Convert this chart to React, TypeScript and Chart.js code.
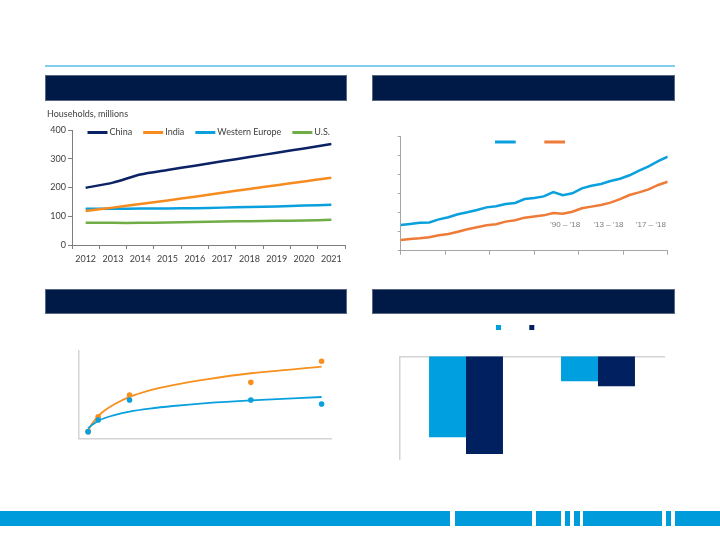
import React, { useEffect, useRef } from "react";
import { Chart, registerables } from "chart.js";

Chart.register(...registerables);

const FONT = "Lato, 'Liberation Sans', Arial, sans-serif";
const SANS = "'Liberation Sans', Arial, sans-serif";

// ---------- Panel 1: households ----------
const yearLabels = ["2012", "2013", "2014", "2015", "2016", "2017", "2018", "2019", "2020", "2021"];
const chinaHouseholds = [199, 217, 245, 261, 276, 291, 306, 321, 336, 351];
const indiaHouseholds = [118, 130, 143, 155, 168, 182, 195, 208, 221, 234];
const westernEuropeHouseholds = [126, 126, 127, 127, 128, 130, 132, 134, 137, 140];
const usHouseholds = [77, 77, 77, 78, 80, 82, 83, 84, 85, 88];
const householdSeriesNames = ["China", "India", "Western Europe", "U.S."];
const householdAxisTitle = "Households, millions";
const householdMin = 0;
const householdMax = 400;
const householdStep = 100;

// ---------- Panel 2: two trend lines ----------
const trendYears = [
  1990, 1991, 1992, 1993, 1994, 1995, 1996, 1997, 1998, 1999,
  2000, 2001, 2002, 2003, 2004, 2005, 2006, 2007, 2008, 2009,
  2010, 2011, 2012, 2013, 2014, 2015, 2016, 2017, 2018,
];
const blueTrend = [
  13.5, 14.1, 14.7, 14.9, 16.5, 17.6, 19.2, 20.2, 21.4, 22.8,
  23.4, 24.6, 25.1, 27.2, 27.7, 28.6, 30.9, 29.2, 30.2, 32.8,
  34.2, 35.1, 36.7, 37.9, 39.7, 42.1, 44.4, 47.1, 49.5,
];
const orangeTrend = [
  5.6, 6.2, 6.5, 7.1, 8.1, 8.8, 10.0, 11.3, 12.3, 13.4,
  13.9, 15.3, 16.0, 17.4, 18.0, 18.6, 19.8, 19.5, 20.5, 22.3,
  23.2, 24.1, 25.3, 27.1, 29.3, 30.7, 32.3, 34.6, 36.3,
];
const periodLabels = ["\u201990 \u2013 \u201918", "\u201913 \u2013 \u201918", "\u201917 \u2013 \u201918"];

// ---------- Panel 3: scatter with fitted curves ----------
const scatterX = [0.9, 1.9, 5, 17, 24];
const orangeScatter = [7.6, 24.7, 49.6, 64.1, 88.2];
const blueScatter = [7.6, 21, 43.9, 43.9, 39.3];
const fitX = [0.9, 1.2, 1.5, 1.9, 2.5, 3.5, 5, 7, 9.3, 12.6, 17, 24];
const orangeFit = [8.7, 15, 20, 25.5, 31.5, 39, 47.5, 55, 61, 67.5, 74.5, 82];
const blueFit = [11.5, 14.5, 17, 20, 23, 26.5, 30.5, 34, 37, 40.3, 43.5, 47.3];

// ---------- Panel 4: grouped negative bars ----------
const barGroups = ["Group 1", "Group 2"];
const lightBlueBars = [-19.7, -6.1];
const navyBars = [-23.8, -7.3];

// ---------- colours ----------
const C_NAVY_LINE = "#0B2265";
const C_ORANGE1 = "#F68B1F";
const C_BLUE = "#0AA0DD";
const C_GREEN = "#70AD47";
const C_ORANGE2 = "#EE7B37";
const C_ORANGE3 = "#F7901E";
const C_BAR_BLUE = "#009FDF";
const C_BAR_NAVY = "#002060";
const C_HEADER = "#001A47";

const xy = (xs: number[], ys: number[]) => xs.map((x, i) => ({ x, y: ys[i] }));

const legendPanel1 = {
  id: "legendPanel1",
  afterDatasetsDraw(chart: any) {
    const { ctx, chartArea } = chart;
    ctx.save();
    ctx.font = `9px ${FONT}`;
    ctx.textBaseline = "middle";
    ctx.textAlign = "left";
    let x = chartArea.left + 15.5;
    const y = chartArea.top + 2.5;
    chart.data.datasets.forEach((ds: any) => {
      ctx.strokeStyle = ds.borderColor;
      ctx.lineWidth = 3;
      ctx.beginPath();
      ctx.moveTo(x, y);
      ctx.lineTo(x + 20, y);
      ctx.stroke();
      x += 22;
      ctx.fillStyle = "#404040";
      ctx.fillText(ds.label, x, y);
      x += ctx.measureText(ds.label).width + 11;
    });
    ctx.restore();
  },
};

const extrasPanel2 = {
  id: "extrasPanel2",
  afterDatasetsDraw(chart: any) {
    const { ctx, chartArea } = chart;
    const ds = chart.data.datasets;
    ctx.save();
    ctx.lineWidth = 3;
    const swatchX = [94.3, 143.6];
    ds.forEach((d: any, i: number) => {
      ctx.strokeStyle = d.borderColor;
      ctx.beginPath();
      ctx.moveTo(chartArea.left + swatchX[i], chartArea.top + 5.3);
      ctx.lineTo(chartArea.left + swatchX[i] + 20.7, chartArea.top + 5.3);
      ctx.stroke();
    });
    ctx.font = `8px ${SANS}`;
    ctx.fillStyle = "#7F7F7F";
    ctx.textBaseline = "middle";
    ctx.textAlign = "left";
    const textX = [149.3, 192.6, 235];
    periodLabels.forEach((t, i) => {
      ctx.fillText(t, chartArea.left + textX[i], chartArea.top + 88);
    });
    ctx.restore();
  },
};

const legendPanel4 = {
  id: "legendPanel4",
  afterDatasetsDraw(chart: any) {
    const { ctx, chartArea } = chart;
    ctx.save();
    const sx = [96, 129.3];
    chart.data.datasets.forEach((d: any, i: number) => {
      ctx.fillStyle = d.backgroundColor;
      ctx.fillRect(chartArea.left + sx[i], chartArea.top - 31.3, 5, 5);
    });
    ctx.restore();
  },
};

const tickFont = { family: FONT, size: 9 };

function config1(): any {
  const colors = [C_NAVY_LINE, C_ORANGE1, C_BLUE, C_GREEN];
  const series = [chinaHouseholds, indiaHouseholds, westernEuropeHouseholds, usHouseholds];
  return {
    type: "line",
    data: {
      labels: yearLabels,
      datasets: series.map((d, i) => ({
        label: householdSeriesNames[i],
        data: d,
        borderColor: colors[i],
        backgroundColor: colors[i],
        borderWidth: 2.5,
        pointRadius: 0,
        tension: 0.25,
      })),
    },
    options: {
      responsive: false,
      animation: false,
      layout: { padding: { top: 4, right: 7, bottom: 0, left: 0 } },
      plugins: {
        legend: { display: false },
        tooltip: { enabled: false },
        title: {
          display: true,
          text: householdAxisTitle,
          align: "start",
          color: "#404040",
          font: { family: FONT, size: 9, weight: "normal" },
          padding: { top: 0, bottom: 10.2 },
        },
      },
      scales: {
        x: {
          offset: true,
          grid: { offset: true, drawOnChartArea: false, drawTicks: true, tickLength: 4, color: "#7F7F7F" },
          border: { color: "#7F7F7F", width: 1 },
          ticks: { color: "#404040", font: tickFont, padding: 5, maxRotation: 0, autoSkip: false },
          afterFit: (s: any) => {
            s.height = 25;
          },
        },
        y: {
          min: householdMin,
          max: householdMax,
          ticks: { stepSize: householdStep, color: "#404040", font: tickFont, padding: 2 },
          grid: { drawOnChartArea: false, drawTicks: true, tickLength: 4, color: "#7F7F7F" },
          border: { color: "#7F7F7F", width: 1 },
          afterFit: (s: any) => {
            s.width = 25;
          },
        },
      },
    },
    plugins: [legendPanel1],
  };
}

function config2(): any {
  return {
    type: "line",
    data: {
      datasets: [
        { label: "", data: xy(trendYears, blueTrend), borderColor: C_BLUE, borderWidth: 2.5, pointRadius: 0, tension: 0 },
        { label: "", data: xy(trendYears, orangeTrend), borderColor: C_ORANGE2, borderWidth: 2.5, pointRadius: 0, tension: 0 },
      ],
    },
    options: {
      responsive: false,
      animation: false,
      layout: { padding: { top: 16.7, right: 7.3, bottom: 5.3, left: 0 } },
      plugins: { legend: { display: false }, tooltip: { enabled: false } },
      scales: {
        x: {
          type: "linear",
          min: trendYears[0],
          max: trendYears[trendYears.length - 1],
          ticks: { display: false, count: 7 },
          grid: { drawOnChartArea: false, drawTicks: true, tickLength: 4, color: "#A6A6A6" },
          border: { color: "#A6A6A6", width: 1 },
          afterFit: (s: any) => {
            s.height = 4;
          },
        },
        y: {
          min: 0,
          max: 60,
          ticks: { display: false, stepSize: 10 },
          grid: { drawOnChartArea: false, drawTicks: true, tickLength: 3, color: "#A6A6A6" },
          border: { color: "#A6A6A6", width: 1 },
          afterFit: (s: any) => {
            s.width = 20.7;
          },
        },
      },
    },
    plugins: [extrasPanel2],
  };
}

function config3(): any {
  return {
    type: "scatter",
    data: {
      datasets: [
        { label: "blue points", data: xy(scatterX, blueScatter), backgroundColor: C_BLUE, borderWidth: 0, pointRadius: 2.8, showLine: false },
        { label: "orange points", data: xy(scatterX, orangeScatter), backgroundColor: C_ORANGE3, borderWidth: 0, pointRadius: 2.8, showLine: false },
        { label: "blue fit", data: xy(fitX, blueFit), borderColor: C_BLUE, borderWidth: 1.8, pointRadius: 0, showLine: true, cubicInterpolationMode: "monotone" },
        { label: "orange fit", data: xy(fitX, orangeFit), borderColor: C_ORANGE3, borderWidth: 1.8, pointRadius: 0, showLine: true, cubicInterpolationMode: "monotone" },
      ],
    },
    options: {
      responsive: false,
      animation: false,
      layout: { padding: { top: 21, right: 13.3, bottom: 11.7, left: 0 } },
      plugins: { legend: { display: false }, tooltip: { enabled: false } },
      scales: {
        x: {
          type: "linear",
          min: 0,
          max: 25,
          ticks: { display: false },
          grid: { display: false },
          border: { color: "#D4D4D4", width: 1.5 },
          afterFit: (s: any) => {
            s.height = 0;
          },
        },
        y: {
          min: 0,
          max: 100,
          ticks: { display: false },
          grid: { display: false },
          border: { color: "#D4D4D4", width: 1.5 },
          afterFit: (s: any) => {
            s.width = 19;
          },
        },
      },
    },
  };
}

function config4(): any {
  return {
    type: "bar",
    data: {
      labels: barGroups,
      datasets: [
        { label: "", data: lightBlueBars, backgroundColor: C_BAR_BLUE, categoryPercentage: 0.56, barPercentage: 1 },
        { label: "", data: navyBars, backgroundColor: C_BAR_NAVY, categoryPercentage: 0.56, barPercentage: 1 },
      ],
    },
    options: {
      responsive: false,
      animation: false,
      layout: { padding: { top: 38.3, right: 11, bottom: 9, left: 0 } },
      plugins: { legend: { display: false }, tooltip: { enabled: false } },
      scales: {
        x: {
          position: "top",
          ticks: { display: false },
          grid: { display: false },
          border: { color: "#D4D4D4", width: 1.5 },
          afterFit: (s: any) => {
            s.height = 0;
          },
        },
        y: {
          min: -25,
          max: 0,
          ticks: { display: false },
          grid: { display: false },
          border: { color: "#D4D4D4", width: 1.5 },
          afterFit: (s: any) => {
            s.width = 20;
          },
        },
      },
    },
    plugins: [legendPanel4],
  };
}

function ChartBox(props: { left: number; top: number; width: number; height: number; make: () => any }) {
  const ref = useRef<HTMLCanvasElement>(null);
  useEffect(() => {
    const chart = new Chart(ref.current as HTMLCanvasElement, props.make());
    return () => chart.destroy();
  }, []);
  return (
    <canvas
      ref={ref}
      width={props.width}
      height={props.height}
      style={{ position: "absolute", left: props.left, top: props.top, width: props.width, height: props.height }}
    />
  );
}

const headerStyle = (left: number, top: number, width: number, height: number): React.CSSProperties => ({
  position: "absolute",
  left,
  top,
  width,
  height,
  background: C_HEADER,
  border: "1px solid #5B6780",
  boxSizing: "border-box",
});

const stripeSegments = [
  [0, 450],
  [454.5, 531.5],
  [535.5, 561],
  [564.5, 570],
  [574, 579.5],
  [583, 661.5],
  [665.5, 671],
  [674.5, 720],
];

export default function App() {
  return (
    <div style={{ position: "absolute", left: 0, top: 0, width: 720, height: 540, background: "#fff", overflow: "hidden" }}>
      <div style={{ position: "absolute", left: 45, top: 65, width: 630, height: 2, background: "#80CFF1" }} />
      <div style={headerStyle(45, 75, 302, 26)} />
      <div style={headerStyle(372, 75, 303, 26)} />
      <div style={headerStyle(45, 289, 302, 25)} />
      <div style={headerStyle(372, 289, 303, 25)} />
      <ChartBox left={47} top={105} width={305} height={165} make={config1} />
      <ChartBox left={380} top={120} width={295} height={140} make={config2} />
      <ChartBox left={60} top={330} width={285} height={120} make={config3} />
      <ChartBox left={380} top={318} width={295} height={150} make={config4} />
      {stripeSegments.map(([a, b], i) => (
        <div key={i} style={{ position: "absolute", left: a, top: 511, width: b - a, height: 15, background: "#009BDA" }} />
      ))}
    </div>
  );
}
